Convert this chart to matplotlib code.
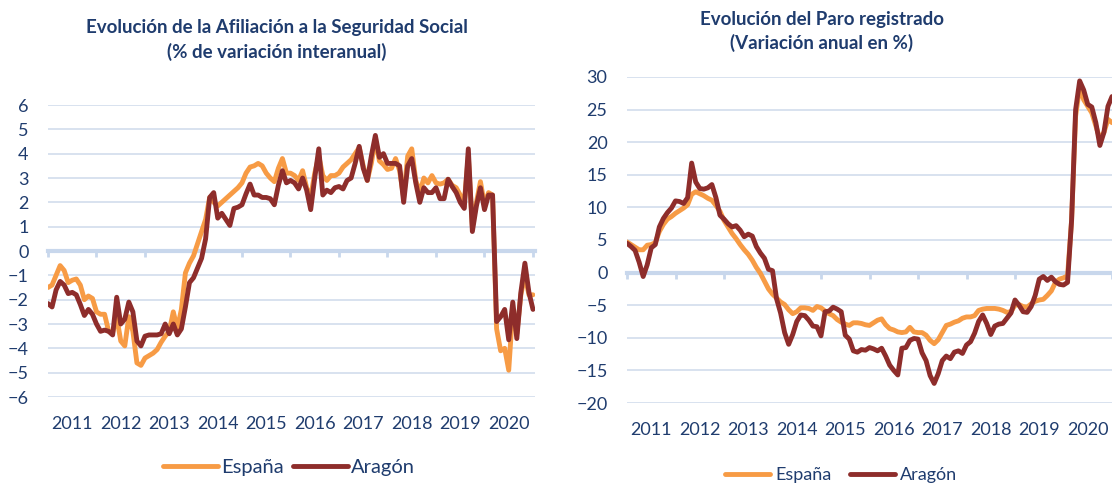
import numpy as np
import matplotlib.pyplot as plt

plt.rcParams['font.family'] = ['Lato', 'DejaVu Sans']

# Year labels (one label per 12 monthly points)
years = [str(y) for y in range(2011, 2021)]

# Afiliación a la Seguridad Social, % variación interanual (monthly)
afil_espana = [
    -1.5, -1.4, -1.0, -0.6, -0.8, -1.3, -1.2, -1.15, -1.4, -2.0,
    -1.85, -1.95, -2.5, -2.6, -2.6, -3.3, -3.35, -2.7, -3.7, -3.9,
    -2.7, -3.3, -4.6, -4.7, -4.4, -4.3, -4.2, -4.05, -3.75, -3.5,
    -3.3, -2.5, -3.2, -2.4, -0.9, -0.5, -0.2, 0.3, 0.8, 1.3,
    2.2, 2.0, 1.85, 2.0, 2.15, 2.3, 2.45, 2.6, 2.8, 3.2,
    3.45, 3.5, 3.6, 3.5, 3.2, 3.0, 2.85, 3.4, 3.8, 3.2,
    3.2, 3.1, 2.9, 3.3, 2.6, 2.2, 3.2, 3.9, 3.1, 2.9,
    3.1, 3.1, 3.2, 3.45, 3.6, 3.75, 4.0, 4.25, 3.5, 2.9,
    3.6, 4.6, 3.7, 3.55, 3.35, 3.4, 3.8, 3.3, 2.2, 3.9,
    4.2, 2.9, 2.4, 3.0, 2.8, 3.1, 2.8, 2.75, 2.8, 2.95,
    2.7, 2.6, 2.3, 2.0, 3.9, 1.0, 2.0, 2.85, 1.9, 2.4,
    2.3, -3.2, -4.1, -4.0, -4.9, -2.4, -3.4, -1.8, -1.0, -1.8,
    -1.8,
]
afil_aragon = [
    -2.16, -2.3, -1.6, -1.25, -1.4, -1.75, -1.7, -1.8, -2.2, -2.65,
    -2.4, -2.6, -3.0, -3.3, -3.25, -3.3, -3.45, -1.9, -3.0, -2.8,
    -2.1, -2.5, -3.7, -3.9, -3.5, -3.45, -3.45, -3.45, -3.4, -3.0,
    -3.4, -3.0, -3.45, -3.2, -2.3, -1.3, -1.1, -0.7, -0.3, 0.5,
    2.2, 2.4, 1.35, 1.55, 1.3, 1.05, 1.75, 1.8, 1.9, 2.35,
    2.75, 2.3, 2.3, 2.2, 2.2, 2.15, 1.9, 2.7, 3.3, 2.8,
    2.9, 2.8, 2.55, 3.0, 2.5, 1.7, 3.0, 4.2, 2.3, 2.5,
    2.4, 2.6, 2.65, 2.55, 2.9, 3.0, 3.6, 4.3, 3.4, 2.9,
    3.9, 4.75, 3.85, 4.0, 3.6, 3.6, 3.6, 3.5, 2.0, 3.5,
    3.8, 2.8, 2.0, 2.6, 2.4, 2.4, 2.6, 2.15, 2.15, 2.95,
    2.65, 2.4, 2.0, 1.75, 4.2, 0.8, 1.85, 2.6, 1.7, 2.3,
    2.3, -2.9, -2.7, -2.4, -3.65, -2.1, -3.6, -1.7, -0.5, -1.7,
    -2.4,
]

# Paro registrado, variación anual en % (monthly)
paro_espana = [
    4.7, 4.3, 3.9, 3.5, 3.5, 4.2, 4.3, 4.6, 6.3, 7.4,
    8.2, 8.6, 9.1, 9.5, 9.9, 10.4, 12.0, 12.4, 12.1, 11.8,
    11.4, 11.1, 10.3, 9.4, 8.0, 7.0, 6.0, 5.2, 4.3, 3.5,
    2.8, 1.9, 0.8, -0.1, -1.3, -2.5, -3.3, -3.9, -4.5, -4.9,
    -5.7, -6.3, -6.0, -5.4, -5.4, -5.5, -5.8, -5.2, -5.4, -5.9,
    -6.3, -6.6, -7.2, -7.6, -7.9, -8.1, -7.7, -7.7, -7.8, -8.0,
    -8.1, -7.7, -7.3, -7.1, -8.0, -8.6, -8.8, -9.1, -9.2, -9.1,
    -8.4, -9.1, -9.2, -9.2, -9.6, -10.4, -10.9, -10.3, -9.2, -8.1,
    -7.9, -7.6, -7.4, -7.0, -6.8, -6.8, -6.6, -5.8, -5.6, -5.5,
    -5.5, -5.5, -5.6, -5.8, -6.1, -6.0, -5.0, -4.9, -5.2, -5.3,
    -4.8, -4.4, -4.2, -4.1, -3.5, -2.8, -1.5, -1.0, -0.8, -0.5,
    8.0, 24.0, 28.5, 26.5, 25.5, 24.5, 22.5, 20.5, 21.5, 23.5,
    23.0,
]
paro_aragon = [
    4.5, 4.0, 3.4, 1.6, -0.6, 1.2, 3.8, 4.3, 7.0, 8.3,
    9.2, 9.9, 11.0, 10.9, 10.6, 11.5, 16.8, 13.9, 12.9, 12.8,
    13.0, 13.5, 11.5, 8.8, 8.2, 7.5, 7.0, 7.2, 6.5, 5.5,
    5.9, 5.6, 4.0, 3.0, 2.2, 0.5, 0.3, -4.0, -6.2, -9.2,
    -11.0, -9.5, -7.5, -6.5, -6.6, -7.3, -8.2, -8.3, -9.7, -6.0,
    -5.9, -5.3, -5.6, -6.0, -9.6, -10.2, -12.0, -12.2, -11.8, -11.9,
    -11.5, -11.7, -12.0, -11.6, -12.8, -14.2, -15.0, -15.7, -11.6, -11.5,
    -10.4, -10.1, -10.2, -12.3, -13.5, -15.8, -17.0, -15.5, -13.5, -12.8,
    -13.2, -12.2, -12.0, -12.4, -11.1, -10.6, -9.3, -7.5, -6.5, -7.8,
    -9.5, -8.2, -7.9, -7.8, -7.0, -6.2, -4.2, -5.0, -6.0, -6.1,
    -5.2, -3.5, -1.0, -0.6, -1.2, -0.7, -1.4, -1.8, -1.9, -1.5,
    8.0, 25.0, 29.4, 28.0, 25.8, 25.4, 23.0, 19.5, 21.5, 25.5,
    27.0,
]

ORANGE = '#F79B45'
DARKRED = '#8E2D2B'
TEXT = '#1F3C6E'
GRID = '#D5DFEE'
ZERO = '#C8D7EC'

W, H = 1112, 483
fig = plt.figure(figsize=(W / 100, H / 100), dpi=100)


def make_chart(rect, esp, ara, ylim, ystep):
    ax = fig.add_axes(rect)
    m = np.arange(len(esp))
    ax.plot(m, esp, color=ORANGE, lw=3.5, solid_joinstyle='round',
            solid_capstyle='round', label='España', zorder=3)
    ax.plot(m, ara, color=DARKRED, lw=3.5, solid_joinstyle='round',
            solid_capstyle='round', label='Aragón', zorder=4)

    ax.set_ylim(*ylim)
    ax.set_yticks(np.arange(ylim[0], ylim[1] + ystep, ystep))
    ax.yaxis.grid(True, color=GRID, lw=1.3)
    ax.set_axisbelow(True)
    ax.tick_params(axis='y', length=0, pad=14, labelsize=13, labelcolor=TEXT)

    for s in ['top', 'right', 'left']:
        ax.spines[s].set_visible(False)
    # zero line acting as category axis
    ax.spines['bottom'].set_position(('data', 0))
    ax.spines['bottom'].set_color(ZERO)
    ax.spines['bottom'].set_linewidth(3)
    ax.spines['bottom'].set_zorder(1)
    bounds = np.arange(0, len(years) * 12 + 1, 12)
    ax.set_xticks(bounds)
    ax.tick_params(axis='x', length=4, width=2, color=ZERO, labelbottom=False)

    sec = ax.secondary_xaxis('bottom')
    sec.set_xticks(bounds[:-1] + 6, years)
    sec.tick_params(length=0, pad=14, labelsize=13, labelcolor=TEXT)
    sec.spines['bottom'].set_visible(False)
    return ax


ax1 = make_chart([48 / W, 1 - 397 / H, 487 / W, 292 / H], afil_espana, afil_aragon,
                 (-6, 6), 1)
ax1.set_xlim(0, 120.5)
fig.text(277 / W, 1 - 40 / H,
         'Evolución de la Afiliación a la Seguridad Social\n(% de variación interanual)',
         ha='center', va='center', fontsize=13.5, fontweight='bold', color=TEXT,
         linespacing=1.45)
ax1.legend(loc='center', bbox_to_anchor=(289 / W, 1 - 467 / H),
           bbox_transform=fig.transFigure, ncol=2, frameon=False, fontsize=14.5,
           labelcolor=TEXT, handlelength=2.7, handletextpad=0.15, columnspacing=0.5)

ax2 = make_chart([627 / W, 1 - 403 / H, 485 / W, 326 / H], paro_espana, paro_aragon,
                 (-20, 30), 5)
ax2.set_xlim(0, 120)
fig.text(822 / W, 1 - 31.5 / H,
         'Evolución del Paro registrado\n(Variación anual en %)',
         ha='center', va='center', fontsize=13.5, fontweight='bold', color=TEXT,
         linespacing=1.45)
ax2.legend(loc='center', bbox_to_anchor=(841 / W, 1 - 475 / H),
           bbox_transform=fig.transFigure, ncol=2, frameon=False, fontsize=13,
           labelcolor=TEXT, handlelength=2.5, handletextpad=0.28, columnspacing=1.0)

fig.savefig('out.png', dpi=100)
